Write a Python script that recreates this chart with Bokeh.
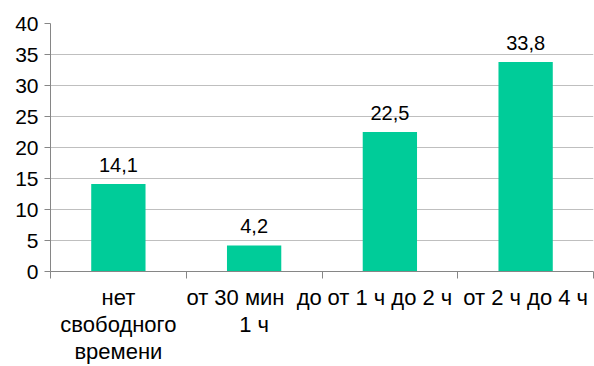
from bokeh.plotting import figure
from bokeh.models import FixedTicker, ColumnDataSource, Range1d
from bokeh.core.properties import value
from bokeh.embed import file_html
from bokeh.resources import INLINE

categories = ["нет\nсвободного\nвремени", "от 30 мин \u00a0до\n1 ч", "от 1 ч до 2 ч", "от 2 ч до 4 ч"]
values = [14.1, 4.2, 22.5, 33.8]
value_labels = ["14,1", "4,2", "22,5", "33,8"]
y_ticks = [0, 5, 10, 15, 20, 25, 30, 35, 40]

FONT = "Liberation Sans"
BAR = "#00CC99"

xs = [i + 0.5 for i in range(len(categories))]
src = ColumnDataSource(dict(x=xs, top=values, lab=value_labels))

p = figure(width=594, height=366, output_backend="svg", toolbar_location=None,
           x_range=Range1d(0, len(categories)), y_range=Range1d(0, 40),
           min_border_left=50, min_border_right=1, min_border_top=23, min_border_bottom=93)
p.outline_line_color = None
p.background_fill_color = "white"

p.vbar(x="x", top="top", width=0.4, bottom=0, source=src, fill_color=BAR, line_color=None)
p.text(x="x", y="top", text="lab", source=src, text_align="center", text_baseline="alphabetic",
       y_offset=-19, text_font=value(FONT), text_font_size="20px", text_color="#000000")

p.xgrid.grid_line_color = None
p.ygrid.grid_line_color = "#BFBFBF"
p.ygrid.ticker = FixedTicker(ticks=y_ticks)

xa = p.xaxis[0]
xa.ticker = FixedTicker(ticks=xs, minor_ticks=list(range(len(categories) + 1)))
xa.major_label_overrides = {x: c for x, c in zip(xs, categories)}
xa.major_tick_line_color = None
xa.major_tick_out = 0
xa.major_tick_in = 0
xa.minor_tick_line_color = "#868686"
xa.minor_tick_out = 7
xa.minor_tick_in = 0
xa.axis_line_color = "#868686"
xa.major_label_text_font = FONT
xa.major_label_text_font_size = "22px"
xa.major_label_text_line_height = 1.08
xa.major_label_text_color = "#000000"
xa.major_label_standoff = 6

ya = p.yaxis[0]
ya.ticker = FixedTicker(ticks=y_ticks)
ya.major_tick_out = 6
ya.major_tick_in = 0
ya.minor_tick_line_color = None
ya.major_tick_line_color = "#868686"
ya.axis_line_color = "#868686"
ya.major_label_text_font = FONT
ya.major_label_text_font_size = "21px"
ya.major_label_text_color = "#000000"
ya.major_label_standoff = 6

open("out.html", "w").write(file_html(p, INLINE))
